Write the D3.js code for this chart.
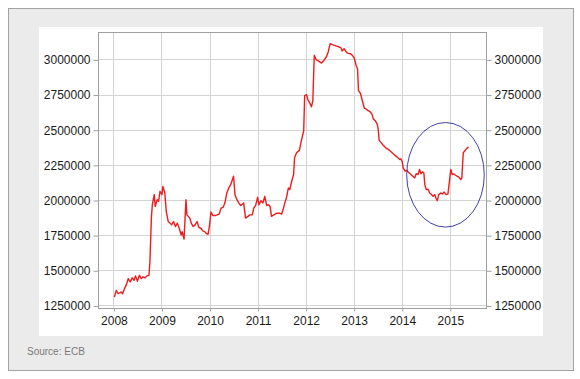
<!DOCTYPE html>
<html>
<head>
<meta charset="utf-8">
<script src="https://cdn.jsdelivr.net/npm/d3@7"></script>
<style>
  body { margin: 0; background: #fff; }
  svg { display: block; font-family: "Liberation Sans", Arial, sans-serif; }
</style>
</head>
<body>
<div class="chart"></div>
<script>
// weekly series (decimal year, value)
var years = [
  2008.02, 2008.06, 2008.10, 2008.16, 2008.19, 2008.23, 2008.27, 2008.31, 2008.35, 2008.39,
  2008.43, 2008.46, 2008.50, 2008.54, 2008.58, 2008.62, 2008.66, 2008.70, 2008.74, 2008.76,
  2008.79, 2008.81, 2008.85, 2008.87, 2008.91, 2008.94, 2008.97, 2009.01, 2009.03, 2009.07,
  2009.10, 2009.14, 2009.18, 2009.21, 2009.25, 2009.29, 2009.33, 2009.37, 2009.41, 2009.43,
  2009.47, 2009.51, 2009.53, 2009.59, 2009.62, 2009.66, 2009.70, 2009.74, 2009.78, 2009.82,
  2009.86, 2009.90, 2009.93, 2009.97, 2010.00, 2010.03, 2010.07, 2010.13, 2010.20, 2010.24,
  2010.28, 2010.32, 2010.36, 2010.40, 2010.44, 2010.50, 2010.53, 2010.57, 2010.61, 2010.65,
  2010.71, 2010.75, 2010.80, 2010.84, 2010.89, 2010.92, 2010.96, 2011.00, 2011.03, 2011.07,
  2011.11, 2011.15, 2011.19, 2011.23, 2011.26, 2011.29, 2011.34, 2011.40, 2011.46, 2011.50,
  2011.53, 2011.57, 2011.60, 2011.64, 2011.67, 2011.71, 2011.75, 2011.77, 2011.81, 2011.87,
  2011.91, 2011.96, 2011.98, 2012.02, 2012.05, 2012.08, 2012.12, 2012.15, 2012.18, 2012.22,
  2012.27, 2012.33, 2012.37, 2012.43, 2012.47, 2012.51, 2012.56, 2012.60, 2012.66, 2012.70,
  2012.73, 2012.76, 2012.80, 2012.83, 2012.87, 2012.93, 2012.97, 2013.01, 2013.05, 2013.08,
  2013.10, 2013.14, 2013.18, 2013.22, 2013.26, 2013.30, 2013.34, 2013.38, 2013.41, 2013.45,
  2013.49, 2013.51, 2013.53, 2013.57, 2013.61, 2013.65, 2013.68, 2013.72, 2013.76, 2013.80,
  2013.84, 2013.88, 2013.92, 2013.96, 2013.98, 2014.01, 2014.03, 2014.07, 2014.11, 2014.15,
  2014.19, 2014.23, 2014.27, 2014.30, 2014.34, 2014.37, 2014.40, 2014.43, 2014.46, 2014.48,
  2014.51, 2014.55, 2014.58, 2014.61, 2014.65, 2014.69, 2014.71, 2014.74, 2014.77, 2014.81,
  2014.85, 2014.88, 2014.92, 2014.96, 2014.98, 2015.02, 2015.05, 2015.08, 2015.12, 2015.15,
  2015.19, 2015.23, 2015.25, 2015.28, 2015.31, 2015.35, 2015.39
];

var values = [
  1309000, 1357000, 1333000, 1345000, 1333000, 1369000, 1398000, 1441000, 1417000, 1446000,
  1429000, 1460000, 1422000, 1465000, 1441000, 1453000, 1446000, 1460000, 1465000, 1560000,
  1871000, 1966000, 2038000, 1954000, 2002000, 1990000, 2062000, 2038000, 2097000, 2050000,
  1918000, 1847000, 1835000, 1823000, 1847000, 1811000, 1835000, 1799000, 1751000, 1775000,
  1722000, 2002000, 1894000, 1871000, 1835000, 1811000, 1823000, 1847000, 1804000, 1799000,
  1780000, 1775000, 1763000, 1756000, 1818000, 1914000, 1890000, 1890000, 1899000, 1942000,
  1947000, 1978000, 2050000, 2085000, 2109000, 2169000, 2038000, 2002000, 1978000, 1961000,
  1978000, 1871000, 1883000, 1894000, 1894000, 1942000, 1961000, 2019000, 1966000, 1995000,
  1978000, 2026000, 1961000, 1966000, 1954000, 1883000, 1894000, 1906000, 1906000, 1899000,
  1930000, 1983000, 2014000, 2085000, 2074000, 2133000, 2181000, 2300000, 2336000, 2353000,
  2420000, 2491000, 2742000, 2749000, 2711000, 2694000, 2663000, 2706000, 3029000, 2998000,
  2988000, 2974000, 2988000, 3017000, 3053000, 3112000, 3105000, 3100000, 3093000, 3088000,
  3084000, 3060000, 3076000, 3060000, 3045000, 3041000, 3029000, 3012000, 2957000, 2933000,
  2778000, 2759000, 2706000, 2654000, 2647000, 2635000, 2628000, 2611000, 2575000, 2563000,
  2539000, 2503000, 2424000, 2408000, 2391000, 2377000, 2367000, 2360000, 2348000, 2336000,
  2324000, 2312000, 2300000, 2288000, 2293000, 2272000, 2229000, 2205000, 2210000, 2193000,
  2181000, 2169000, 2157000, 2186000, 2181000, 2217000, 2186000, 2200000, 2193000, 2109000,
  2074000, 2074000, 2050000, 2042000, 2026000, 2038000, 2014000, 1995000, 2038000, 2050000,
  2042000, 2057000, 2038000, 2042000, 2097000, 2217000, 2181000, 2186000, 2176000, 2169000,
  2162000, 2145000, 2157000, 2336000, 2348000, 2365000, 2379000
];

var yearTicks = [2008, 2009, 2010, 2011, 2012, 2013, 2014, 2015];
var valueTicks = [1250000, 1500000, 1750000, 2000000, 2250000, 2500000, 2750000, 3000000];

// the hand-drawn ring: centre and half-widths in data units
var ringCenter = [2014.91, 2179000];
var ringRadius = [0.807, 372000];

var sourceNote = "Source: ECB";

var width = 580, height = 379;

var svg = d3.select(".chart").append("svg")
  .attr("width", width)
  .attr("height", height);

// outer grey card and white panel
svg.append("rect")
  .attr("x", 8.5).attr("y", 8.5)
  .attr("width", 565).attr("height", 362)
  .attr("fill", "#ebebeb")
  .attr("stroke", "#a3a3a3");

svg.append("rect")
  .attr("x", 39).attr("y", 27)
  .attr("width", 504).attr("height", 309)
  .attr("fill", "#ffffff");

var plot = { left: 98.5, right: 486.5, top: 32.5, bottom: 308.5 };

var x = d3.scaleLinear()
  .domain([2008, 2015])
  .range([113.4, 449.8]);

var y = d3.scaleLinear()
  .domain([1250000, 3000000])
  .range([305.4, 59.4]);

// grid
var grid = svg.append("g").attr("class", "grid");
grid.selectAll("line.v")
  .data(yearTicks)
  .enter().append("line")
    .attr("class", "v")
    .attr("x1", function(d) { return Math.round(x(d)) + 0.5; })
    .attr("x2", function(d) { return Math.round(x(d)) + 0.5; })
    .attr("y1", plot.top)
    .attr("y2", plot.bottom)
    .attr("stroke", "#d4d4d4");

grid.selectAll("line.h")
  .data(valueTicks)
  .enter().append("line")
    .attr("class", "h")
    .attr("x1", plot.left)
    .attr("x2", plot.right)
    .attr("y1", function(d) { return Math.round(y(d)) + 0.5; })
    .attr("y2", function(d) { return Math.round(y(d)) + 0.5; })
    .attr("stroke", "#d4d4d4");

// frame
svg.append("rect")
  .attr("x", plot.left).attr("y", plot.top)
  .attr("width", plot.right - plot.left)
  .attr("height", plot.bottom - plot.top)
  .attr("fill", "none")
  .attr("stroke", "#a0a0a0");

// axes
var yLeft = d3.axisLeft(y)
  .tickValues(valueTicks)
  .tickSize(5)
  .tickPadding(3)
  .tickFormat(d3.format("d"));

var yRight = d3.axisRight(y)
  .tickValues(valueTicks)
  .tickSize(5)
  .tickPadding(3)
  .tickFormat(d3.format("d"));

var xBottom = d3.axisBottom(x)
  .tickValues(yearTicks)
  .tickSize(3)
  .tickPadding(5)
  .tickFormat(d3.format("d"));

function styleAxis(g) {
  g.select(".domain").remove();
  g.selectAll("line").attr("stroke", "#a0a0a0");
  g.selectAll("text")
    .attr("fill", "#1a1a1a")
    .style("font-size", "12px");
}

svg.append("g")
  .attr("transform", "translate(" + plot.left + ",0.5)")
  .call(yLeft)
  .call(styleAxis);

svg.append("g")
  .attr("transform", "translate(" + plot.right + ",0.5)")
  .call(yRight)
  .call(styleAxis);

svg.append("g")
  .attr("transform", "translate(0.5," + plot.bottom + ")")
  .call(xBottom)
  .call(styleAxis);

// the series
var series = years.map(function(yr, i) { return [yr, values[i]]; });

svg.append("path")
  .datum(series)
  .attr("fill", "none")
  .attr("stroke", "#ee1c1c")
  .attr("stroke-width", 1.4)
  .attr("stroke-linejoin", "round")
  .attr("d", d3.line()
    .x(function(d) { return x(d[0]); })
    .y(function(d) { return y(d[1]); }));

// blue ring around the recent move
svg.append("ellipse")
  .attr("cx", x(ringCenter[0]))
  .attr("cy", y(ringCenter[1]))
  .attr("rx", x(ringCenter[0] + ringRadius[0]) - x(ringCenter[0]))
  .attr("ry", y(ringCenter[1] - ringRadius[1]) - y(ringCenter[1]))
  .attr("fill", "none")
  .attr("stroke", "#2a2aa0")
  .attr("stroke-width", 0.9);

svg.append("text")
  .attr("x", 27)
  .attr("y", 355)
  .attr("fill", "#7a7a7a")
  .style("font-size", "10px")
  .text(sourceNote);
</script>
</body>
</html>
